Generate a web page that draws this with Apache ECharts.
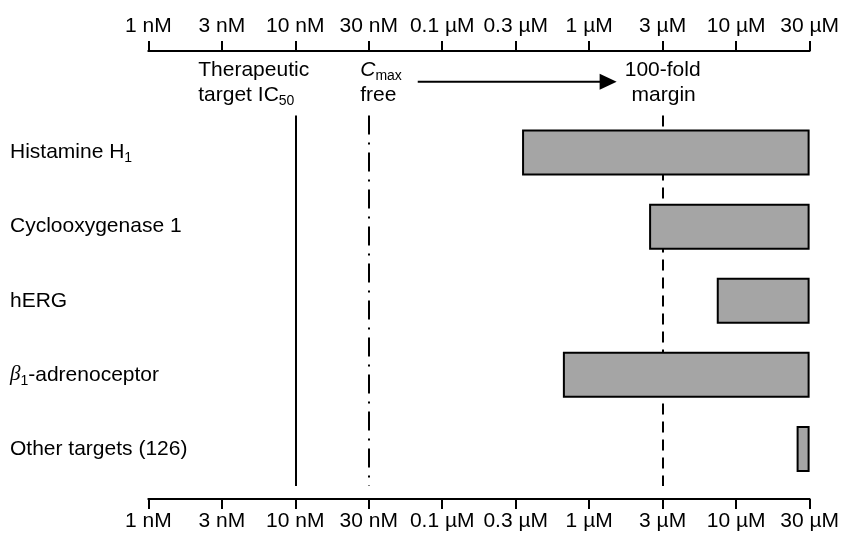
<!DOCTYPE html>
<html>
<head>
<meta charset="utf-8">
<script src="https://cdn.jsdelivr.net/npm/echarts@6/dist/echarts.min.js"></script>
<style>
html,body{margin:0;padding:0;background:#fff;}
#c{width:842px;height:541px;}
</style>
</head>
<body>
<div id="c"></div>
<script>
// ---- data ----
const tickNM = [1, 3, 10, 30, 100, 300, 1000, 3000, 10000, 30000];
const tickLabels = ['1 nM', '3 nM', '10 nM', '30 nM', '0.1 µM', '0.3 µM', '1 µM', '3 µM', '10 µM', '30 µM'];
const targets = ['Histamine H1', 'Cyclooxygenase 1', 'hERG', 'beta1-adrenoceptor', 'Other targets (126)'];
const bandLowNM = [333, 2450, 7280, 650, 24700];
const bandHighNM = [30000, 30000, 30000, 30000, 30000];
const ic50NM = 10;
const cmaxFreeNM = 30;
const marginNM = 3000;

const richLabel = {
  'Histamine H1': 'Histamine H{s|1}',
  'Cyclooxygenase 1': 'Cyclooxygenase 1',
  'hERG': 'hERG',
  'beta1-adrenoceptor': '{b|β}{s|1}-adrenoceptor',
  'Other targets (126)': 'Other targets (126)'
};

// position on the printed axis (ticks equally spaced)
function pos(nM) {
  for (let i = 0; i < tickNM.length - 1; i++) {
    if (nM <= tickNM[i + 1]) {
      return i + Math.log(nM / tickNM[i]) / Math.log(tickNM[i + 1] / tickNM[i]);
    }
  }
  return tickNM.length - 1;
}

const FONT = 'Liberation Sans, Arial, sans-serif';
const FS = 21;
const lowPos = bandLowNM.map(pos);
const widthPos = bandHighNM.map((h, i) => pos(h) - lowPos[i]);

const chart = echarts.init(document.getElementById('c'), null, {renderer: 'canvas'});

function xAxisCfg(position, offset, margin) {
  return {
    type: 'value', position: position, min: 0, max: tickNM.length - 1, interval: 1,
    offset: offset,
    axisLine: {show: true, onZero: false, lineStyle: {color: '#000', width: 2}},
    axisTick: {show: true, length: 10, lineStyle: {color: '#000', width: 2}},
    axisLabel: {
      formatter: v => tickLabels[Math.round(v)], fontSize: FS, fontFamily: FONT,
      color: '#000', margin: margin
    },
    splitLine: {show: false}
  };
}

const option = {
  animation: false,
  backgroundColor: '#fff',
  grid: {left: 148.3, right: 30.8, top: 115.5, bottom: 55},
  xAxis: [xAxisCfg('top', 64.5, 14), xAxisCfg('bottom', 13, 12)],
  yAxis: {
    type: 'category', data: targets, inverse: true,
    axisLine: {show: false}, axisTick: {show: false}, splitLine: {show: false},
    axisLabel: {
      align: 'left', margin: 138.3, color: '#000', fontSize: FS, fontFamily: FONT,
      formatter: v => richLabel[v],
      lineHeight: 26,
      rich: {
        s: {fontSize: 14, fontFamily: FONT, color: '#000', lineHeight: 14, verticalAlign: 'bottom'},
        b: {fontSize: 21, fontFamily: 'Liberation Serif, serif', fontStyle: 'italic', color: '#000', lineHeight: 26}
      }
    }
  },
  series: [
    {
      type: 'bar', stack: 'r', xAxisIndex: 1, data: lowPos, barWidth: 46, z: 1, silent: true,
      itemStyle: {color: 'rgba(0,0,0,0)'},
      markLine: {
        z: 1, symbol: 'none', silent: true, label: {show: false},
        data: [
          {xAxis: pos(ic50NM), lineStyle: {color: '#000', width: 2, type: 'solid'}},
          {xAxis: pos(cmaxFreeNM), lineStyle: {color: '#000', width: 2, type: [19, 8, 2, 8]}},
          {xAxis: pos(marginNM), lineStyle: {color: '#000', width: 2, type: [11, 7]}}
        ]
      }
    },
    {
      type: 'bar', stack: 'r', xAxisIndex: 1, data: widthPos, barWidth: 46, z: 3,
      itemStyle: {color: '#a5a5a5', borderColor: '#000', borderWidth: 2}
    }
  ]
};
chart.setOption(option);

// annotations anchored to the reference lines
const xIC = chart.convertToPixel({xAxisIndex: 1}, pos(ic50NM));
const xCm = chart.convertToPixel({xAxisIndex: 1}, pos(cmaxFreeNM));
const xMg = chart.convertToPixel({xAxisIndex: 1}, pos(marginNM));
const y1 = 70, y2 = 95, yArrow = 81.7;
const txt = (x, y, text, align, rich) => ({
  type: 'text', x: x, y: y, silent: true,
  style: {text: text, fill: '#000', font: FS + 'px ' + FONT, align: align, verticalAlign: 'middle', rich: rich || undefined}
});
const subRich = {
  s: {fontSize: 14, fontFamily: FONT, fill: '#000', lineHeight: 14, verticalAlign: 'bottom'},
  n: {fontSize: FS, fontFamily: FONT, fill: '#000', lineHeight: 26},
  c: {fontSize: FS, fontFamily: FONT, fontStyle: 'italic', fill: '#000', lineHeight: 26}
};
chart.setOption({
  graphic: [
    txt(xIC - 97, y1, 'Therapeutic', 'left'),
    txt(xIC - 97, y2, '{n|target IC}{s|50}', 'left', subRich),
    txt(xCm - 8.5, y1, '{c|C}{s|max}', 'left', subRich),
    txt(xCm - 8.5, y2, 'free', 'left'),
    txt(xMg, y1, '100-fold', 'center'),
    txt(xMg + 1, y2, 'margin', 'center'),
    {type: 'line', silent: true, shape: {x1: xCm + 49, y1: yArrow, x2: xMg - 60, y2: yArrow},
     style: {stroke: '#000', lineWidth: 2}},
    {type: 'polygon', silent: true,
     shape: {points: [[xMg - 63, yArrow - 8], [xMg - 46, yArrow], [xMg - 63, yArrow + 8]]},
     style: {fill: '#000'}}
  ]
});
</script>
</body>
</html>
